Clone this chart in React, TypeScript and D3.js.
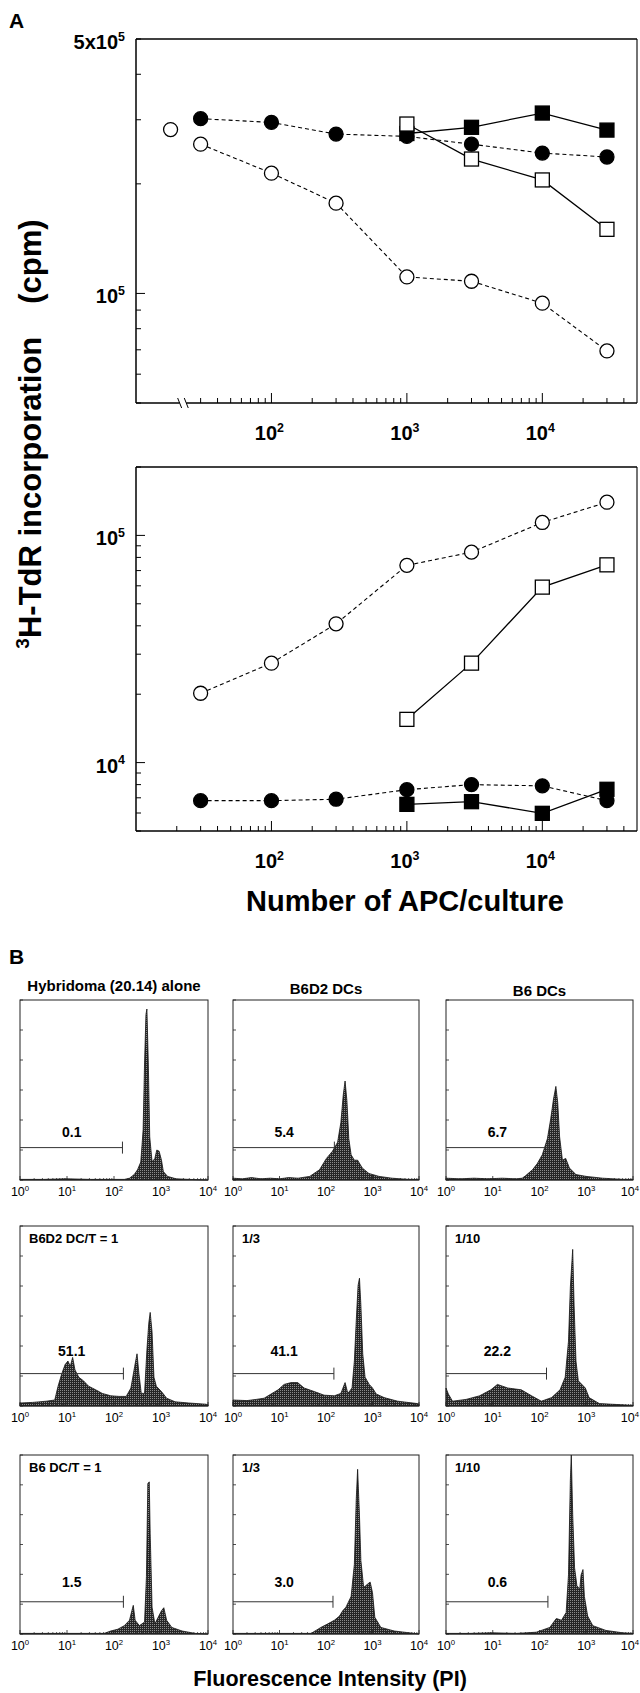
import React from "react";
import * as d3 from "d3";

const FONT = "'Liberation Sans', Arial, Helvetica, sans-serif";

// ---- Panel A: proliferation (cpm) vs number of APC ----
const doses = [30, 100, 300, 1000, 3000, 10000, 30000];
const squareDoses = [1000, 3000, 10000, 30000];

// T cells without APC, drawn left of the axis break
const upperNoApc = 2.82e5;
const upperOpenCircle = [2.57e5, 2.14e5, 1.77e5, 1.11e5, 1.08e5, 9.4e4, 6.95e4];
const upperFilledCircle = [3.02e5, 2.95e5, 2.74e5, 2.7e5, 2.57e5, 2.43e5, 2.37e5];
const upperOpenSquare = [2.92e5, 2.34e5, 2.05e5, 1.5e5];
const upperFilledSquare = [2.75e5, 2.86e5, 3.13e5, 2.81e5];

const lowerOpenCircle = [2.02e4, 2.74e4, 4.08e4, 7.38e4, 8.44e4, 1.14e5, 1.4e5];
const lowerFilledCircle = [6.8e3, 6.8e3, 6.9e3, 7.6e3, 8.0e3, 7.9e3, 6.8e3];
const lowerOpenSquare = [1.55e4, 2.74e4, 5.92e4, 7.42e4];
const lowerFilledSquare = [6.55e3, 6.73e3, 5.98e3, 7.63e3];

const xTickLabels = [2, 3, 4];

// ---- Panel B: PI histograms ----
const columnTitles = ["Hybridoma (20.14) alone", "B6D2 DCs", "B6 DCs"];
const panelNotes = ["", "", "", "B6D2 DC/T = 1", "1/3", "1/10", "B6 DC/T = 1", "1/3", "1/10"];
const gateValues = ["0.1", "5.4", "6.7", "51.1", "41.1", "22.2", "1.5", "3.0", "0.6"];
const histLabelsExp = [0, 1, 2, 3, 4];

// [log10 fluorescence, relative count]
const hist = [
  [[0,1],[0.5,1],[1,2],[1.5,1],[2,1],[2.22,1],[2.33,3],[2.43,9],[2.5,17],[2.57,30],[2.62,84],[2.65,195],[2.68,276],[2.7,285],[2.73,195],[2.76,72],[2.81,30],[2.87,36],[2.91,50],[2.96,48],[3.01,33],[3.05,14],[3.14,6],[3.32,2],[3.6,1],[4,0]],
  [[0,3],[0.2,2],[0.4,4],[0.6,2],[0.8,3],[1,2],[1.2,4],[1.4,3],[1.65,6],[1.86,17],[2.01,36],[2.14,48],[2.25,63],[2.32,96],[2.37,141],[2.41,165],[2.45,132],[2.49,69],[2.54,42],[2.61,33],[2.68,33],[2.78,20],[2.92,11],[3.14,6],[3.42,3],[3.78,1],[4,1]],
  [[0,3],[0.3,2],[0.6,3],[0.9,2],[1.2,3],[1.5,2],[1.63,3],[1.7,7],[1.85,17],[1.95,27],[2.06,42],[2.17,69],[2.24,102],[2.3,135],[2.35,156],[2.39,129],[2.43,72],[2.49,33],[2.56,36],[2.64,20],[2.78,9],[3,6],[3.35,3],[3.8,1],[4,1]],
  [[0,5],[0.27,6],[0.56,8],[0.74,10],[0.81,33],[0.89,54],[0.96,69],[1.02,75],[1.07,66],[1.12,81],[1.17,60],[1.25,48],[1.35,42],[1.46,33],[1.61,27],[1.75,21],[1.93,17],[2.11,16],[2.26,16],[2.36,30],[2.44,66],[2.49,87],[2.53,54],[2.58,21],[2.65,21],[2.7,93],[2.74,138],[2.77,156],[2.81,123],[2.85,48],[2.9,33],[3.01,24],[3.12,13],[3.3,7],[3.59,5],[3.95,3],[4,2]],
  [[0,10],[0.3,9],[0.5,11],[0.67,13],[0.97,27],[1.1,36],[1.25,39],[1.39,39],[1.53,30],[1.75,24],[1.96,18],[2.18,17],[2.32,21],[2.41,39],[2.47,21],[2.56,30],[2.61,75],[2.65,141],[2.69,201],[2.72,213],[2.75,168],[2.79,87],[2.84,48],[2.93,36],[3,30],[3.08,20],[3.25,14],[3.54,8],[3.97,4],[4,3]],
  [[0,30],[0.05,20],[0.14,8],[0.43,11],[0.72,17],[0.96,27],[1.1,36],[1.32,30],[1.61,27],[1.83,17],[2.04,8],[2.26,14],[2.44,27],[2.55,48],[2.62,108],[2.66,198],[2.71,261],[2.74,168],[2.78,75],[2.83,42],[2.98,30],[3.06,14],[3.28,4],[3.78,2],[4,1]],
  [[0,1],[0.5,1],[1,1],[1.5,1],[1.79,1],[1.93,5],[2.08,8],[2.22,14],[2.33,23],[2.38,39],[2.41,48],[2.45,23],[2.54,14],[2.65,20],[2.69,96],[2.72,252],[2.75,255],[2.77,168],[2.81,45],[2.87,17],[2.94,28],[3.01,39],[3.06,44],[3.12,23],[3.23,11],[3.45,5],[3.73,1],[4,0]],
  [[0,1],[0.5,1],[1,1],[1.5,1],[1.68,1],[1.89,11],[2.04,17],[2.18,23],[2.29,30],[2.36,39],[2.43,45],[2.54,63],[2.61,117],[2.65,225],[2.68,276],[2.72,198],[2.75,123],[2.81,78],[2.9,84],[2.95,87],[3,69],[3.05,28],[3.18,11],[3.47,5],[3.9,1],[4,0]],
  [[0,1],[0.5,1],[1,2],[1.5,1],[1.93,3],[2.22,11],[2.36,26],[2.47,23],[2.57,36],[2.62,99],[2.66,258],[2.68,300],[2.71,201],[2.75,111],[2.8,81],[2.86,75],[2.89,99],[2.93,108],[2.96,63],[3.03,30],[3.14,14],[3.42,6],[3.78,2],[4,1]],
];
const gateEnd = [2.18, 2.18, 2.18, 2.2, 2.17, 2.15, 2.2, 2.15, 2.18];
const gateLevel = 54;

// layout
const AX = [136, 637];
const UP = [39, 403];
const LO = [467, 831];
const NO_APC_POS = 18;
const colX = [[20, 208], [233, 419], [446, 633]];
const rowY = [[1000, 1180], [1226, 1406], [1455, 1634]];
const gateLabelGap = [11, 18, 15];

const Pow = ({ x, y, exp, base = "10", size, anchor = "middle", bold = true, pre = "" }) => (
  <text x={x} y={y} textAnchor={anchor} fontSize={size} fontWeight={bold ? "bold" : "normal"} fontFamily={FONT}>
    {pre}{base}
    <tspan dy={-size * 0.42} fontSize={size * 0.62}>{exp}</tspan>
  </text>
);

const circle = (cx, cy, filled, key) => (
  <circle key={key} cx={cx} cy={cy} r={7} fill={filled ? "#000" : "#fff"} stroke="#000" strokeWidth={1.3} />
);
const square = (cx, cy, filled, key) => (
  <rect key={key} x={cx - 7} y={cy - 7} width={14} height={14} fill={filled ? "#000" : "#fff"} stroke="#000" strokeWidth={1.3} />
);

function DosePanel({ yRange, yDomain, openC, filledC, openS, filledS, withBreak, noApc, labels }) {
  const x = d3.scaleLog().domain([10, 5e4]).range(AX);
  const y = d3.scaleLog().domain(yDomain).range([yRange[1], yRange[0]]);
  const line = d3.line().x((d) => x(d[0])).y((d) => y(d[1]));
  const zip = (xs, ys) => xs.map((v, i) => [v, ys[i]]);
  const minTick = withBreak ? 30 : 20;
  const xTicks = x.ticks().filter((t) => t >= minTick && t <= 4e4);
  const yTicks = y.ticks();
  const isDecade = (t) => Math.abs(Math.log10(t) - Math.round(Math.log10(t))) < 1e-6;
  const b0 = x(21), b1 = x(23.5);
  const bottom = yRange[1];
  return (
    <g>
      <line x1={AX[0]} x2={AX[1]} y1={yRange[0]} y2={yRange[0]} stroke="#000" strokeWidth={1.3} />
      <line x1={AX[1]} x2={AX[1]} y1={yRange[0]} y2={bottom} stroke="#000" strokeWidth={1.1} />
      <line x1={AX[0]} x2={AX[0]} y1={yRange[0]} y2={bottom} stroke="#000" strokeWidth={1.5} />
      {withBreak ? (
        <g stroke="#000" strokeWidth={1.5}>
          <line x1={AX[0]} x2={b0} y1={bottom} y2={bottom} />
          <line x1={b1} x2={AX[1]} y1={bottom} y2={bottom} />
          <line x1={b0 - 2} x2={b0 + 2} y1={bottom - 5} y2={bottom + 5} strokeWidth={1} />
          <line x1={b1 - 2} x2={b1 + 2} y1={bottom - 5} y2={bottom + 5} strokeWidth={1} />
        </g>
      ) : (
        <line x1={AX[0]} x2={AX[1]} y1={bottom} y2={bottom} stroke="#000" strokeWidth={1.5} />
      )}
      {xTicks.map((t, i) => (
        <line key={"xt" + i} x1={x(t)} x2={x(t)} y1={bottom} y2={bottom - (isDecade(t) ? 10 : 5)} stroke="#000" strokeWidth={1} />
      ))}
      {yTicks.map((t, i) => (
        <line key={"yt" + i} x1={AX[0]} x2={AX[0] + (isDecade(t) ? 9 : 5)} y1={y(t)} y2={y(t)} stroke="#000" strokeWidth={1} />
      ))}
      {labels.map((l, i) => (
        <Pow key={"yl" + i} x={125} y={y(l.v) + 10} exp={l.exp} pre={l.pre} size={20} anchor="end" />
      ))}
      {xTickLabels.map((e) => (
        <Pow key={"xl" + e} x={x(Math.pow(10, e)) - 2} y={bottom + 37} exp={e} size={20} />
      ))}
      <path d={line(zip(doses, openC))} fill="none" stroke="#000" strokeWidth={1.1} strokeDasharray="4,3" />
      <path d={line(zip(doses, filledC))} fill="none" stroke="#000" strokeWidth={1.1} strokeDasharray="4,3" />
      <path d={line(zip(squareDoses, openS))} fill="none" stroke="#000" strokeWidth={1.3} />
      <path d={line(zip(squareDoses, filledS))} fill="none" stroke="#000" strokeWidth={1.3} />
      {noApc !== undefined && circle(x(NO_APC_POS), y(noApc), false, "ctrl")}
      {doses.map((d, i) => circle(x(d), y(filledC[i]), true, "fc" + i))}
      {squareDoses.map((d, i) => square(x(d), y(filledS[i]), true, "fs" + i))}
      {squareDoses.map((d, i) => square(x(d), y(openS[i]), false, "os" + i))}
      {doses.map((d, i) => circle(x(d), y(openC[i]), false, "oc" + i))}
    </g>
  );
}

function Histogram({ idx }) {
  const r = Math.floor(idx / 3), c = idx % 3;
  const [x0, x1] = colX[c];
  const [y0, y1] = rowY[r];
  const x = d3.scaleLinear().domain([0, 4]).range([x0, x1]);
  const y = d3.scaleLinear().domain([0, 300]).range([y1, y0]);
  const area = d3.area().x((d) => x(d[0])).y0(y(0)).y1((d) => y(d[1]));
  const minor = d3.range(0, 4).flatMap((e) => d3.range(2, 10).map((m) => e + Math.log10(m)));
  const gy = y(gateLevel);
  return (
    <g>
      <path d={area(hist[idx])} fill="url(#stipple)" stroke="#111" strokeWidth={0.8} />
      <rect x={x0} y={y0} width={x1 - x0} height={y1 - y0} fill="none" stroke="#222" strokeWidth={1} />
      {y.ticks(6).map((t) => (
        <line key={t} x1={x0} x2={x0 + 3} y1={y(t)} y2={y(t)} stroke="#222" strokeWidth={0.8} />
      ))}
      {minor.map((m, i) => (
        <line key={"m" + i} x1={x(m)} x2={x(m)} y1={y1} y2={y1 - 2} stroke="#222" strokeWidth={0.7} />
      ))}
      {histLabelsExp.map((e) => (
        <line key={"M" + e} x1={x(e)} x2={x(e)} y1={y1} y2={y1 - 4} stroke="#222" strokeWidth={0.8} />
      ))}
      <line x1={x(0)} x2={x(gateEnd[idx])} y1={gy} y2={gy} stroke="#333" strokeWidth={1} />
      <line x1={x(gateEnd[idx])} x2={x(gateEnd[idx])} y1={gy - 6} y2={gy + 6} stroke="#333" strokeWidth={1} />
      <text x={x(1.1)} y={gy - gateLabelGap[r]} textAnchor="middle" fontSize={14} fontWeight="bold" fontFamily={FONT}>{gateValues[idx]}</text>
      {panelNotes[idx] && (
        <text x={x0 + 9} y={y0 + 17} fontSize={13} fontWeight="bold" fontFamily={FONT}>{panelNotes[idx]}</text>
      )}
      {histLabelsExp.map((e) => {
        const last = c === 2 && e === 4;
        return (
          <Pow key={"l" + e} x={last ? 639 : x(e)} y={y1 + 16} exp={e} size={12.5} bold={false} anchor={last ? "end" : "middle"} />
        );
      })}
    </g>
  );
}

export default function App() {
  return (
    <svg width={640} height={1693} style={{ position: "absolute", left: 0, top: 0, background: "#fff" }}>
      <defs>
        <pattern id="stipple" width={2} height={2} patternUnits="userSpaceOnUse">
          <rect width={2} height={2} fill="#262626" />
          <rect width={1} height={1} fill="#8c8c8c" />
        </pattern>
      </defs>
      <rect width={640} height={1693} fill="#fff" />
      <text x={9} y={28} fontSize={21} fontWeight="bold" fontFamily={FONT}>A</text>
      <DosePanel
        yRange={UP}
        yDomain={[5e4, 5e5]}
        openC={upperOpenCircle}
        filledC={upperFilledCircle}
        openS={upperOpenSquare}
        filledS={upperFilledSquare}
        withBreak
        noApc={upperNoApc}
        labels={[{ v: 5e5, exp: 5, pre: "5x" }, { v: 1e5, exp: 5, pre: "" }]}
      />
      <DosePanel
        yRange={LO}
        yDomain={[5e3, 2e5]}
        openC={lowerOpenCircle}
        filledC={lowerFilledCircle}
        openS={lowerOpenSquare}
        filledS={lowerFilledSquare}
        labels={[{ v: 1e5, exp: 5, pre: "" }, { v: 1e4, exp: 4, pre: "" }]}
      />
      <text transform="translate(41,434) rotate(-90)" textAnchor="middle" fontSize={31} fontWeight="bold" fontFamily={FONT}>
        <tspan fontSize={19} dy={-12}>3</tspan>
        <tspan dy={12}>H-TdR incorporation</tspan>
        <tspan dx={33}>(cpm)</tspan>
      </text>
      <text x={405} y={911} textAnchor="middle" fontSize={29} fontWeight="bold" fontFamily={FONT}>Number of APC/culture</text>

      <text x={9} y={964} fontSize={21} fontWeight="bold" fontFamily={FONT}>B</text>
      {columnTitles.map((t, i) => (
        <text key={t} x={(colX[i][0] + colX[i][1]) / 2} y={991 + i * 2.5} textAnchor="middle" fontSize={15} fontWeight="bold" fontFamily={FONT}>{t}</text>
      ))}
      {d3.range(9).map((i) => <Histogram key={i} idx={i} />)}
      <text x={330} y={1686} textAnchor="middle" fontSize={21.5} fontWeight="bold" fontFamily={FONT}>Fluorescence Intensity (PI)</text>
    </svg>
  );
}
